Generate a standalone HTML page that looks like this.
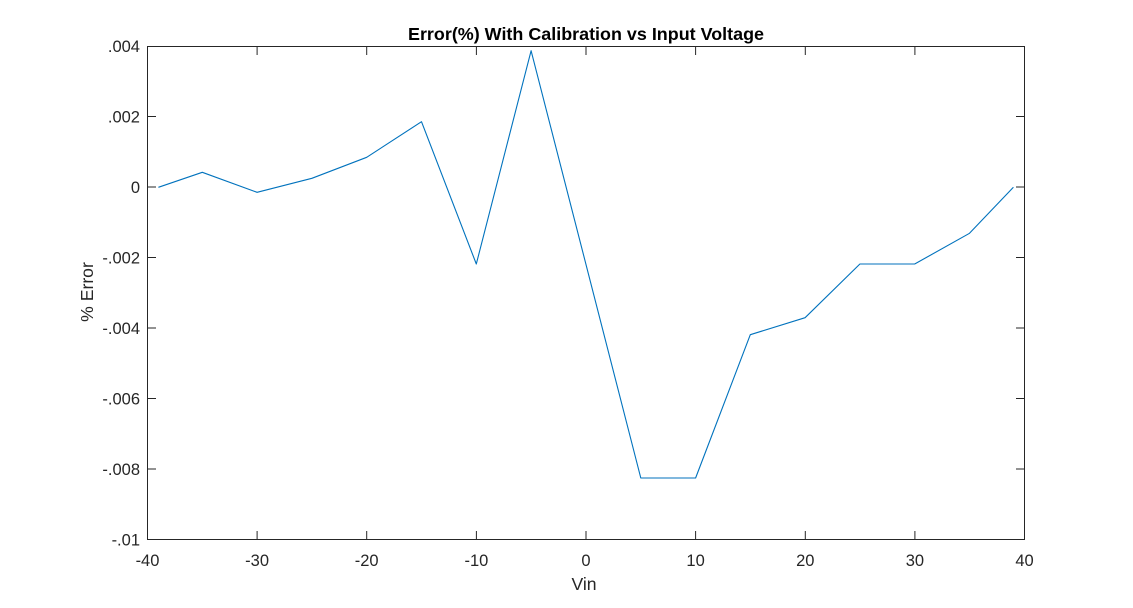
<!DOCTYPE html>
<html>
<head>
<meta charset="utf-8">
<style>
html,body{margin:0;padding:0;background:#fff;}
svg{display:block;}
text{font-family:"Liberation Sans",Arial,sans-serif;}
</style>
</head>
<body>
<svg width="1133" height="608" viewBox="0 0 1133 608" xmlns="http://www.w3.org/2000/svg">
<rect width="1133" height="608" fill="#fff"/>
<rect x="147.5" y="46.5" width="877" height="493" fill="none" stroke="#262626" stroke-width="1"/>
<g stroke="#262626" stroke-width="1">
<path d="M257.1 539.5V531 M366.7 539.5V531 M476.4 539.5V531 M586 539.5V531 M695.6 539.5V531 M805.3 539.5V531 M914.9 539.5V531"/>
<path d="M257.1 46.5V55 M366.7 46.5V55 M476.4 46.5V55 M586 46.5V55 M695.6 46.5V55 M805.3 46.5V55 M914.9 46.5V55"/>
<path d="M147.5 116.5H156 M147.5 187H156 M147.5 257.5H156 M147.5 328H156 M147.5 398.5H156 M147.5 469H156"/>
<path d="M1024.5 116.5H1016 M1024.5 187H1016 M1024.5 257.5H1016 M1024.5 328H1016 M1024.5 398.5H1016 M1024.5 469H1016"/>
</g>
<g fill="#262626" font-size="16.5" text-anchor="end">
<text x="140" y="52.2">.004</text>
<text x="140" y="122.7">.002</text>
<text x="140" y="193.2">0</text>
<text x="140" y="263.7">-.002</text>
<text x="140" y="334.2">-.004</text>
<text x="140" y="404.7">-.006</text>
<text x="140" y="475.2">-.008</text>
<text x="140" y="545.7">-.01</text>
</g>
<g fill="#262626" font-size="16.5" text-anchor="middle">
<text x="147.5" y="566.2">-40</text>
<text x="257.1" y="566.2">-30</text>
<text x="366.7" y="566.2">-20</text>
<text x="476.4" y="566.2">-10</text>
<text x="586" y="566.2">0</text>
<text x="695.6" y="566.2">10</text>
<text x="805.3" y="566.2">20</text>
<text x="914.9" y="566.2">30</text>
<text x="1024.5" y="566.2">40</text>
</g>
<text x="584" y="590" fill="#262626" font-size="17.6" text-anchor="middle">Vin</text>
<text transform="translate(93,292) rotate(-90)" fill="#262626" font-size="17.6" text-anchor="middle">% Error</text>
<text x="586" y="40" fill="#000" font-size="17.6" font-weight="bold" text-anchor="middle" textLength="356" lengthAdjust="spacingAndGlyphs">Error(%) With Calibration vs Input Voltage</text>
<polyline fill="none" stroke="#0072BD" stroke-width="1.1" stroke-linejoin="round"
points="158.4,187.3 202.3,172.3 257.1,192.3 311.9,178.3 366.7,157.3 421.5,121.7 476.3,264 531.1,50.7 640.8,478 695.6,478 750.3,334.7 805.1,317.7 859.9,264 914.7,264 969.5,233.3 1013.4,187.3"/>
</svg>
</body>
</html>
